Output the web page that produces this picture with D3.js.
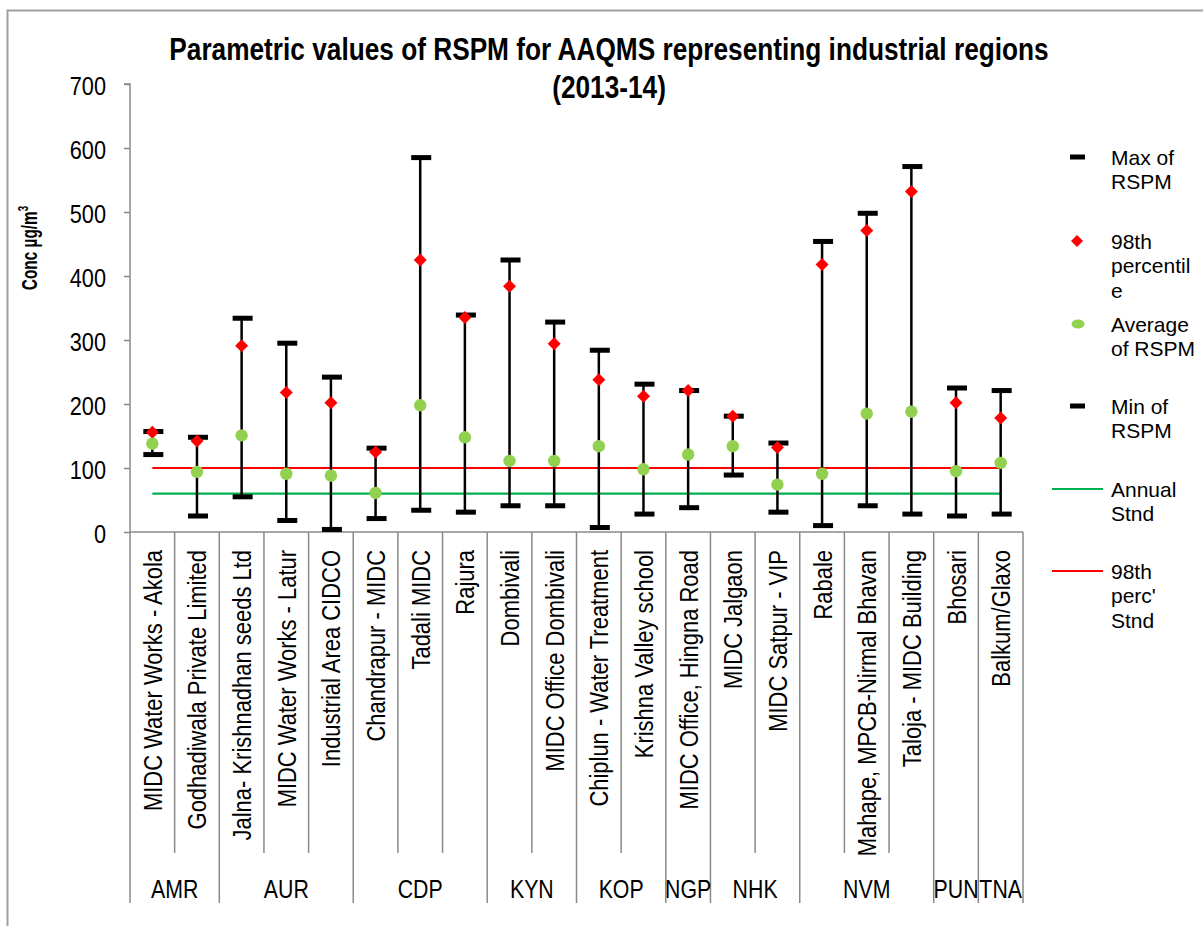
<!DOCTYPE html>
<html>
<head>
<meta charset="utf-8">
<script src="https://cdn.jsdelivr.net/npm/d3@7"></script>
<style>
  html, body { margin: 0; padding: 0; background: #fff; }
  svg { display: block; }
</style>
</head>
<body>
<div id="chart"></div>
<script>
// ---- Data ----
const categories = [
  "MIDC Water Works - Akola", "Godhadiwala  Private Limited",
  "Jalna- Krishnadhan seeds Ltd", "MIDC Water Works - Latur", "Industrial Area CIDCO",
  "Chandrapur - MIDC", "Tadali MIDC", "Rajura",
  "Dombivali", "MIDC Office Dombivali",
  "Chiplun - Water Treatment", "Krishna Valley school",
  "MIDC Office, Hingna Road",
  "MIDC Jalgaon", "MIDC Satpur - VIP",
  "Rabale", "Mahape, MPCB-Nirmal Bhavan", "Taloja - MIDC Building",
  "Bhosari",
  "Balkum/Glaxo"
];
const groups = ["AMR","AMR","AUR","AUR","AUR","CDP","CDP","CDP","KYN","KYN","KOP","KOP","NGP","NHK","NHK","NVM","NVM","NVM","PUN","TNA"];
const maxVals = [157, 148, 334, 295, 242, 131, 585, 339, 425, 328, 284, 231, 221, 181, 139, 454, 498, 571, 225, 221];
const p98Vals = [156, 142, 291, 218, 202, 125, 425, 335, 384, 294, 238, 212, 221, 181, 132, 418, 471, 532, 202, 178];
const avgVals = [138,  94, 151,  91,  88,  61, 198, 148, 111, 111, 134,  98, 121, 134,  74,  91, 185, 188,  95, 108];
const minVals = [121,  25,  55,  18,   4,  21,  34,  31,  41,  41,   7,  28,  38,  89,  31,  10,  41,  28,  25,  28];
const annualStd = 60;
const p98Std = 100;
const yTicks = [0, 100, 200, 300, 400, 500, 600, 700];
const titleLines = ["Parametric values of RSPM for AAQMS representing industrial regions", "(2013-14)"];
const legendItems = [
  {key: "max", lines: ["Max of", "RSPM"]},
  {key: "p98", lines: ["98th", "percentil", "e"]},
  {key: "avg", lines: ["Average", "of RSPM"]},
  {key: "min", lines: ["Min of", "RSPM"]},
  {key: "annual", lines: ["Annual", "Stnd"]},
  {key: "p98std", lines: ["98th", "perc'", "Stnd"]}
];

// ---- Layout ----
const W = 1203, H = 926;
const font = "'Liberation Sans', Arial, sans-serif";
const NARROW = 0.82; // horizontal condensing to mimic Arial Narrow
const axisGray = "#898989";

const svg = d3.select("#chart").append("svg").attr("width", W).attr("height", H);
svg.append("rect").attr("width", W).attr("height", H).attr("fill", "#fff");
// chart border
svg.append("rect").attr("x", 7.5).attr("y", 10.5).attr("width", W + 20).attr("height", H + 20)
  .attr("fill", "none").attr("stroke", "#a0a0a0").attr("stroke-width", 2);

const x = d3.scaleBand().domain(d3.range(categories.length)).range([130, 1023]).padding(0);
const y = d3.scaleLinear().domain([0, 700]).range([532, 84]);
const cx = i => x(i) + x.bandwidth() / 2;

// Title
svg.append("g").selectAll("text").data(titleLines).join("text")
  .attr("transform", (d, i) => `translate(609,${i === 0 ? 60 : 98}) scale(${NARROW},1)`)
  .attr("font-family", font).attr("font-weight", "bold").attr("font-size", 32)
  .attr("text-anchor", "middle").attr("fill", "#000")
  .text(d => d);

// Y axis title
svg.append("text").attr("transform", `translate(37,248) rotate(-90) scale(0.7,1)`)
  .attr("text-anchor", "middle").attr("font-family", font).attr("font-weight", "bold")
  .attr("font-size", 22).attr("fill", "#000")
  .html('Conc µg/m<tspan dy="-9" font-size="14">3</tspan>');

// Y axis
const yAxis = d3.axisLeft(y).tickValues(yTicks).tickSize(6).tickFormat(d3.format("d"));
const gy = svg.append("g").attr("transform", "translate(130,0)").call(yAxis);
gy.select(".domain").attr("stroke", axisGray).attr("stroke-width", 1.5).attr("d", `M-6,${y(700)}H0V${y(0)}`);
gy.selectAll(".tick line").attr("stroke", axisGray).attr("stroke-width", 1.5);
gy.selectAll(".tick text")
  .attr("x", 0).attr("dy", null).attr("y", 0)
  .attr("transform", `translate(-24,10.5) scale(${NARROW},1)`)
  .attr("font-family", font).attr("font-size", 26.5).attr("fill", "#000");

// X axis line
svg.append("line").attr("x1", 130).attr("x2", 1023).attr("y1", y(0)).attr("y2", y(0))
  .attr("stroke", axisGray).attr("stroke-width", 1.5);

// Category separators
const boundaries = d3.range(categories.length + 1);
const bx = i => i < categories.length ? x(i) : x(i - 1) + x.bandwidth();
svg.append("g").selectAll("line").data(boundaries).join("line")
  .attr("x1", bx).attr("x2", bx)
  .attr("y1", y(0))
  .attr("y2", i => (i === 0 || i === categories.length || groups[i] !== groups[i - 1]) ? 903 : 853)
  .attr("stroke", axisGray).attr("stroke-width", 1.5);

// Category labels
svg.append("g").selectAll("text").data(categories).join("text")
  .attr("transform", (d, i) => `translate(${cx(i) + 9.5},550) rotate(-90) scale(0.835,1)`)
  .attr("text-anchor", "end").attr("font-family", font).attr("font-size", 26.3).attr("fill", "#000")
  .text(d => d);

// Group labels
const groupList = [];
groups.forEach((g, i) => {
  const last = groupList[groupList.length - 1];
  if (last && last.name === g) last.end = i; else groupList.push({name: g, start: i, end: i});
});
svg.append("g").selectAll("text").data(groupList).join("text")
  .attr("transform", d => `translate(${(x(d.start) + x(d.end) + x.bandwidth()) / 2},898) scale(${NARROW},1)`)
  .attr("text-anchor", "middle")
  .attr("font-family", font).attr("font-size", 26).attr("fill", "#000")
  .text(d => d.name);

// Standard lines
svg.append("line").attr("x1", cx(0)).attr("x2", cx(categories.length - 1))
  .attr("y1", y(annualStd)).attr("y2", y(annualStd))
  .attr("stroke", "#00b050").attr("stroke-width", 2.2);
svg.append("line").attr("x1", cx(0)).attr("x2", cx(categories.length - 1))
  .attr("y1", y(p98Std)).attr("y2", y(p98Std))
  .attr("stroke", "#ff0000").attr("stroke-width", 2.2);

// Vertical range lines
const idx = d3.range(categories.length);
svg.append("g").selectAll("line").data(idx).join("line")
  .attr("x1", cx).attr("x2", cx)
  .attr("y1", i => y(maxVals[i])).attr("y2", i => y(minVals[i]))
  .attr("stroke", "#000").attr("stroke-width", 2.5);

// Caps
const capW = 20, capH = 5;
svg.append("g").selectAll("rect").data(idx).join("rect")
  .attr("x", i => cx(i) - capW / 2 + 1).attr("y", i => y(maxVals[i]) - capH / 2)
  .attr("width", capW).attr("height", capH).attr("fill", "#000");
svg.append("g").selectAll("rect").data(idx).join("rect")
  .attr("x", i => cx(i) - capW / 2 + 1).attr("y", i => y(minVals[i]) - capH / 2)
  .attr("width", capW).attr("height", capH).attr("fill", "#000");

// 98th percentile diamonds
const diamond = s => `M0,${-s}L${s},0L0,${s}L${-s},0Z`;
svg.append("g").selectAll("path").data(idx).join("path")
  .attr("transform", i => `translate(${cx(i)},${y(p98Vals[i])})`)
  .attr("d", diamond(6.5)).attr("fill", "#ff0000");

// Average circles
svg.append("g").selectAll("circle").data(idx).join("circle")
  .attr("cx", cx).attr("cy", i => y(avgVals[i])).attr("r", 6.2).attr("fill", "#92d050");

// Legend
const legendY = [157, 241, 324, 406, 489, 571];
const lg = svg.append("g");
legendItems.forEach((item, k) => {
  const ly = legendY[k];
  const g = lg.append("g");
  if (item.key === "max" || item.key === "min") {
    g.append("rect").attr("x", 1070).attr("y", ly - 2.5).attr("width", 15).attr("height", 5).attr("fill", "#000");
  } else if (item.key === "p98") {
    g.append("path").attr("transform", `translate(1077,${ly})`).attr("d", diamond(6)).attr("fill", "#ff0000");
  } else if (item.key === "avg") {
    g.append("ellipse").attr("cx", 1078).attr("cy", ly).attr("rx", 6.5).attr("ry", 4.5).attr("fill", "#92d050");
  } else if (item.key === "annual") {
    g.append("line").attr("x1", 1052).attr("x2", 1103).attr("y1", ly).attr("y2", ly).attr("stroke", "#00b050").attr("stroke-width", 1.8);
  } else {
    g.append("line").attr("x1", 1052).attr("x2", 1103).attr("y1", ly).attr("y2", ly).attr("stroke", "#ff0000").attr("stroke-width", 1.8);
  }
  const t = g.append("text").attr("font-family", font).attr("font-size", 21).attr("fill", "#000");
  item.lines.forEach((ln, j) => {
    t.append("tspan").attr("x", 1111).attr("y", ly + 7.5 + j * 24.5).text(ln);
  });
});
</script>
</body>
</html>
